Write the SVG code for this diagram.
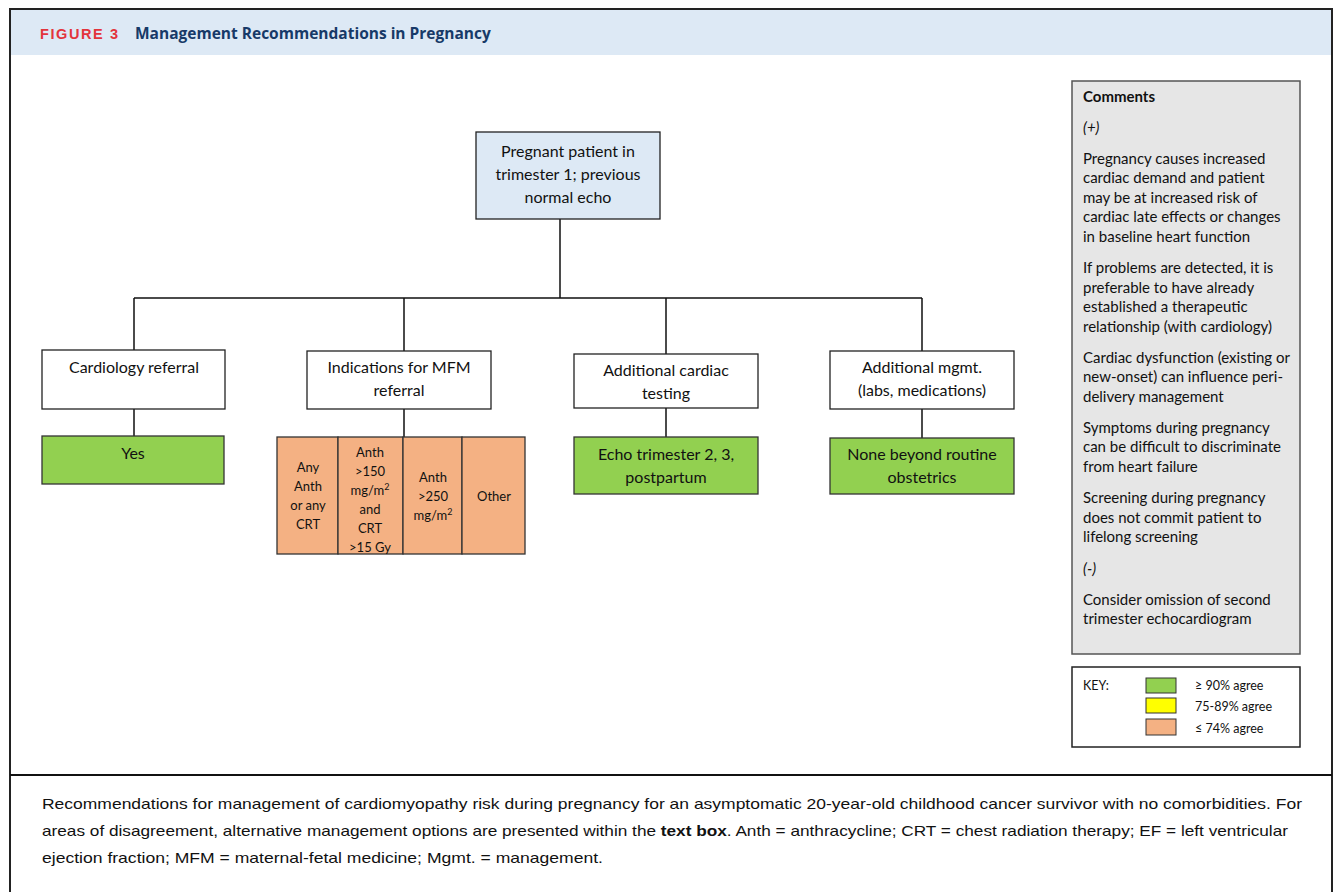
<svg xmlns="http://www.w3.org/2000/svg" width="1335" height="892" viewBox="0 0 1335 892">
<style>
.n{font-family:Lato,"Open Sans","Liberation Sans",sans-serif;font-size:16px;fill:#111;text-anchor:middle}
.s{font-family:Lato,"Open Sans","Liberation Sans",sans-serif;font-size:13px;fill:#111;text-anchor:middle}
.c{font-family:Lato,"Open Sans","Liberation Sans",sans-serif;font-size:15px;fill:#111}
.k{font-family:Lato,"Open Sans","Liberation Sans",sans-serif;font-size:12.5px;fill:#111}
.cap{font-family:"Liberation Sans",Arial,sans-serif;font-size:15px;fill:#111}
.box{fill:#fff;stroke:#222;stroke-width:1.3}
.g{fill:#92d050;stroke:#333;stroke-width:1.3}
.o{fill:#f4b183;stroke:#333;stroke-width:1.3}
.ln{stroke:#111;stroke-width:1.5;fill:none}
</style>
<rect x="0" y="0" width="1335" height="892" fill="#fff"/>
<rect x="10" y="9" width="1322" height="46" fill="#dde9f5"/>
<path d="M10 892 V9 H1332 V892" fill="none" stroke="#222" stroke-width="2"/>
<line x1="10" y1="775" x2="1332" y2="775" stroke="#111" stroke-width="2"/>
<text x="40" y="39" font-family="'Liberation Sans',Arial,sans-serif" font-size="14.5" font-weight="bold" fill="#e3343c" letter-spacing="1.6">FIGURE 3</text>
<text x="135" y="39" font-family="'Open Sans','Liberation Sans',sans-serif" font-size="15.5" font-weight="bold" fill="#173a68">Management Recommendations in Pregnancy</text>

<g id="connectors">
<path class="ln" d="M560 219 V298 M134 298 H922 M134 298 V350 M404 298 V351 M666 298 V354 M922 298 V351 M134 409 V436 M404 409 V437 M666 408 V437 M922 409 V438"/>
</g>

<g id="root"><rect x="476" y="132" width="184" height="87" fill="#dde9f5" stroke="#222" stroke-width="1.3"/>
<text class="n" x="568" y="157">Pregnant patient in</text><text class="n" x="568" y="180">trimester 1; previous</text><text class="n" x="568" y="203">normal echo</text></g>

<g id="cardio"><rect class="box" x="42" y="350" width="183" height="59"/><text class="n" x="134" y="373">Cardiology referral</text></g>
<g id="mfm"><rect class="box" x="307" y="351" width="184" height="58"/><text class="n" x="399" y="373">Indications for MFM</text><text class="n" x="399" y="396">referral</text></g>
<g id="testing"><rect class="box" x="574" y="354" width="184" height="54"/><text class="n" x="666" y="376">Additional cardiac</text><text class="n" x="666" y="399">testing</text></g>
<g id="mgmt"><rect class="box" x="830" y="351" width="184" height="58"/><text class="n" x="922" y="373">Additional mgmt.</text><text class="n" x="922" y="396">(labs, medications)</text></g>

<g id="yes"><rect class="g" x="42" y="436" width="182" height="48"/><text class="n" x="133" y="459">Yes</text></g>
<g id="mfm-opts">
<rect class="o" x="277" y="437" width="61" height="117"/><rect class="o" x="338" y="437" width="65" height="117"/><rect class="o" x="403" y="437" width="59" height="117"/><rect class="o" x="462" y="437" width="63" height="117"/>
<text class="s" x="308" y="472">Any</text><text class="s" x="308" y="491">Anth</text><text class="s" x="308" y="510">or any</text><text class="s" x="308" y="529">CRT</text>
<text class="s" x="370" y="457">Anth</text><text class="s" x="370" y="476">&gt;150</text><text class="s" x="370" y="495">mg/m<tspan font-size="9" dy="-5">2</tspan></text><text class="s" x="370" y="514">and</text><text class="s" x="370" y="533">CRT</text><text class="s" x="370" y="552">&gt;15 Gy</text>
<text class="s" x="433" y="482">Anth</text><text class="s" x="433" y="501">&gt;250</text><text class="s" x="433" y="520">mg/m<tspan font-size="9" dy="-5">2</tspan></text>
<text class="s" x="494" y="501">Other</text>
</g>
<g id="echo"><rect class="g" x="574" y="437" width="184" height="57"/><text class="n" x="666" y="460">Echo trimester 2, 3,</text><text class="n" x="666" y="483">postpartum</text></g>
<g id="none"><rect class="g" x="830" y="438" width="184" height="56"/><text class="n" x="922" y="460">None beyond routine</text><text class="n" x="922" y="483">obstetrics</text></g>

<g id="comments">
<rect x="1072" y="81" width="228" height="573" fill="#e6e6e6" stroke="#555" stroke-width="1.5"/>
<text class="c" x="1083" y="102" font-weight="bold">Comments</text>
<text class="c" x="1083" y="133" font-style="italic">(+)</text>
<text class="c" x="1083" y="164">Pregnancy causes increased</text>
<text class="c" x="1083" y="183">cardiac demand and patient</text>
<text class="c" x="1083" y="203">may be at increased risk of</text>
<text class="c" x="1083" y="222">cardiac late effects or changes</text>
<text class="c" x="1083" y="242">in baseline heart function</text>
<text class="c" x="1083" y="273">If problems are detected, it is</text>
<text class="c" x="1083" y="293">preferable to have already</text>
<text class="c" x="1083" y="312">established a therapeutic</text>
<text class="c" x="1083" y="332">relationship (with cardiology)</text>
<text class="c" x="1083" y="363">Cardiac dysfunction (existing or</text>
<text class="c" x="1083" y="382">new-onset) can influence peri-</text>
<text class="c" x="1083" y="402">delivery management</text>
<text class="c" x="1083" y="433">Symptoms during pregnancy</text>
<text class="c" x="1083" y="452">can be difficult to discriminate</text>
<text class="c" x="1083" y="472">from heart failure</text>
<text class="c" x="1083" y="503">Screening during pregnancy</text>
<text class="c" x="1083" y="523">does not commit patient to</text>
<text class="c" x="1083" y="542">lifelong screening</text>
<text class="c" x="1083" y="574" font-style="italic">(-)</text>
<text class="c" x="1083" y="605">Consider omission of second</text>
<text class="c" x="1083" y="624">trimester echocardiogram</text>
</g>

<g id="key">
<rect x="1072" y="667" width="228" height="80" fill="#fff" stroke="#222" stroke-width="1.5"/>
<text class="k" x="1083" y="690">KEY:</text>
<rect x="1146" y="678" width="30" height="15" fill="#92d050" stroke="#333"/>
<rect x="1146" y="698" width="30" height="15" fill="#ffff00" stroke="#333"/>
<rect x="1146" y="719" width="30" height="16" fill="#f4b183" stroke="#333"/>
<text class="k" x="1195" y="690">≥ 90% agree</text>
<text class="k" x="1195" y="711">75-89%  agree</text>
<text class="k" x="1195" y="733">≤ 74% agree</text>
</g>

<g id="caption">
<text class="cap" x="42" y="809" textLength="1260" lengthAdjust="spacingAndGlyphs">Recommendations for management of cardiomyopathy risk during pregnancy for an asymptomatic 20-year-old childhood cancer survivor with no comorbidities. For</text>
<text class="cap" x="42" y="836" textLength="1246" lengthAdjust="spacingAndGlyphs">areas of disagreement, alternative management options are presented within the <tspan font-weight="bold">text box</tspan>. Anth = anthracycline; CRT = chest radiation therapy; EF = left ventricular</text>
<text class="cap" x="42" y="863" textLength="561" lengthAdjust="spacingAndGlyphs">ejection fraction; MFM = maternal-fetal medicine; Mgmt. = management.</text>
</g>
</svg>
